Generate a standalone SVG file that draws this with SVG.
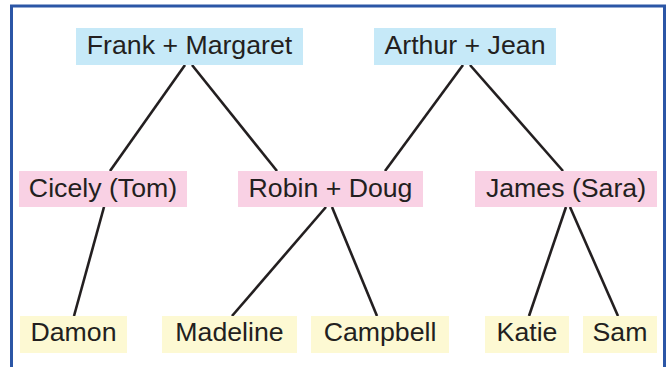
<svg xmlns="http://www.w3.org/2000/svg" width="670" height="367" viewBox="0 0 670 367">
<style>
.frame{fill:#ffffff;stroke:#2b56a6;stroke-width:3}
.g1{fill:#c6e9f8}
.g2{fill:#f9d1e4}
.g3{fill:#fdf9d3}
text{font-family:"Liberation Sans",Arial,sans-serif;font-size:26.7px;fill:#231f20;text-anchor:middle}
.c line{stroke:#231f20;stroke-width:2.6;stroke-linecap:butt}
</style>
<rect class="frame" x="11.5" y="6" width="653" height="380"/>
<g class="c" id="connectors">
<line x1="185" y1="65" x2="110" y2="171"/>
<line x1="192" y1="65" x2="277" y2="171"/>
<line x1="463" y1="65" x2="385" y2="171"/>
<line x1="470" y1="65" x2="563" y2="171"/>
<line x1="104" y1="207" x2="74" y2="316"/>
<line x1="326" y1="207" x2="232" y2="316"/>
<line x1="332" y1="207" x2="377" y2="316"/>
<line x1="566" y1="207" x2="529" y2="316"/>
<line x1="570" y1="207" x2="618" y2="316"/>
</g>
<g id="frank_margaret"><rect class="g1" x="76" y="28" width="227" height="37"/><text x="189.5" y="53.5">Frank + Margaret</text></g>
<g id="arthur_jean"><rect class="g1" x="374" y="28" width="182" height="37"/><text x="465" y="53.5">Arthur + Jean</text></g>
<g id="cicely"><rect class="g2" x="19" y="171" width="168" height="36"/><text x="103" y="196.5">Cicely (Tom)</text></g>
<g id="robin_doug"><rect class="g2" x="238" y="171" width="185" height="36"/><text x="330.5" y="196.5">Robin + Doug</text></g>
<g id="james"><rect class="g2" x="475" y="171" width="182" height="36"/><text x="566" y="196.5">James (Sara)</text></g>
<g id="damon"><rect class="g3" x="20" y="316" width="107" height="37"/><text x="73.5" y="341">Damon</text></g>
<g id="madeline"><rect class="g3" x="162" y="316" width="135" height="37"/><text x="229.5" y="341">Madeline</text></g>
<g id="campbell"><rect class="g3" x="311" y="316" width="138" height="37"/><text x="380" y="341">Campbell</text></g>
<g id="katie"><rect class="g3" x="485" y="316" width="84" height="37"/><text x="527" y="341">Katie</text></g>
<g id="sam"><rect class="g3" x="583" y="316" width="74" height="37"/><text x="620" y="341">Sam</text></g>
</svg>
